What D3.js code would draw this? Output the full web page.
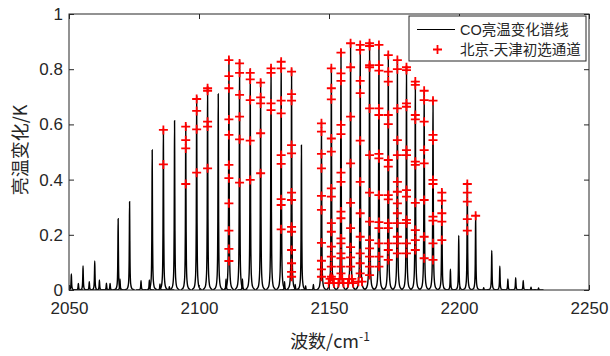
<!DOCTYPE html>
<html>
<head>
<meta charset="utf-8">
<script src="https://cdn.jsdelivr.net/npm/d3@7"></script>
<style>
  body { margin: 0; background: #fff; }
  text { font-family: Arial, "Liberation Sans", sans-serif; fill: #262626; }
</style>
</head>
<body>
<svg id="chart" width="610" height="356"></svg>
<script>
// CO fundamental band lines: centre (cm-1) and brightness temperature change (K)
const lineNu = [2050.9, 2055.4, 2059.9, 2064.4, 2068.9, 2073.3, 2077.7, 2082.0, 2086.3, 2090.6,
  2094.9, 2099.1, 2103.3, 2107.4, 2111.5, 2115.6, 2119.7, 2123.7, 2127.7, 2131.6, 2135.6, 2139.4,
  2147.1, 2150.9, 2154.6, 2158.3, 2162.0, 2165.6, 2169.2, 2172.8, 2176.3, 2179.8, 2183.2, 2186.6,
  2190.0, 2193.4, 2196.7, 2199.9, 2203.2, 2206.4, 2209.5, 2212.6, 2215.7, 2218.8, 2221.8, 2224.7,
  2227.7, 2230.6];
const lineHeight = [0.058, 0.087, 0.105, 0.025, 0.258, 0.32, 0.034, 0.507, 0.585, 0.613,
  0.60, 0.70, 0.735, 0.71, 0.84, 0.83, 0.80, 0.76, 0.81, 0.835, 0.80, 0.525,
  0.61, 0.81, 0.87, 0.895, 0.89, 0.896, 0.89, 0.857, 0.836, 0.809, 0.758, 0.725,
  0.692, 0.362, 0.075, 0.198, 0.39, 0.272, 0.008, 0.143, 0.086, 0.04, 0.045, 0.035,
  0.01, 0.007];

// weak lines (hot band / isotopes)
const weakNu = [2053.6, 2057.8, 2061.7, 2065.8, 2069.6, 2080.9, 2085.0, 2088.6, 2110.4, 2116.7,
  2132.9, 2137.0, 2141.0, 2144.0];
const weakHeight = [0.024, 0.03, 0.036, 0.024, 0.04, 0.036, 0.022, 0.012, 0.04, 0.04,
  0.03, 0.02, 0.015, 0.02];

// selected channels: line centre and values of the channels on that line
const channelNu = [2086.3, 2094.9, 2099.1, 2103.3, 2111.5, 2115.6, 2119.7, 2123.7, 2127.7, 2131.6,
  2135.6, 2147.1, 2150.9, 2154.6, 2158.3, 2162.0, 2165.6, 2169.2, 2172.8, 2176.3, 2179.8, 2183.2,
  2186.6, 2190.0, 2193.4, 2203.2, 2206.4];
const channelValues = [
  [0.58, 0.455],
  [0.592, 0.543, 0.513, 0.384],
  [0.692, 0.649, 0.582, 0.425],
  [0.731, 0.722, 0.61, 0.592, 0.441],
  [0.833, 0.775, 0.731, 0.618, 0.562, 0.453, 0.405, 0.314, 0.215, 0.149, 0.105],
  [0.821, 0.787, 0.707, 0.628, 0.546, 0.389],
  [0.787, 0.763, 0.688, 0.541, 0.399],
  [0.751, 0.698, 0.676, 0.568, 0.423],
  [0.803, 0.787, 0.676, 0.652],
  [0.827, 0.803, 0.686, 0.640, 0.489, 0.457, 0.329, 0.308, 0.220],
  [0.791, 0.710, 0.686, 0.525, 0.495, 0.353, 0.326, 0.229, 0.211, 0.145, 0.097, 0.066, 0.048],
  [0.604, 0.574, 0.493, 0.441, 0.341, 0.290, 0.171, 0.106, 0.075, 0.048],
  [0.803, 0.731, 0.691, 0.549, 0.501, 0.368, 0.338, 0.242, 0.211, 0.157, 0.121, 0.085, 0.048],
  [0.860, 0.785, 0.758, 0.598, 0.565, 0.425, 0.392, 0.284, 0.26, 0.187, 0.169, 0.133, 0.115, 0.085, 0.06],
  [0.894, 0.807, 0.628, 0.459, 0.316, 0.224, 0.155, 0.118, 0.085],
  [0.888, 0.870, 0.758, 0.713, 0.541, 0.392, 0.278, 0.193, 0.133, 0.097, 0.06],
  [0.894, 0.884, 0.815, 0.807, 0.658, 0.489, 0.353, 0.248, 0.181, 0.151, 0.121, 0.085, 0.054],
  [0.888, 0.815, 0.795, 0.658, 0.634, 0.493, 0.477, 0.344, 0.246, 0.224, 0.169, 0.121, 0.085],
  [0.851, 0.791, 0.755, 0.634, 0.601, 0.471, 0.447, 0.344, 0.328, 0.242, 0.224, 0.169, 0.145, 0.109],
  [0.833, 0.800, 0.658, 0.543, 0.489, 0.392, 0.356, 0.314, 0.278, 0.242, 0.193, 0.169, 0.133],
  [0.807, 0.797, 0.676, 0.664, 0.507, 0.489, 0.362, 0.338, 0.254, 0.242, 0.169, 0.133],
  [0.755, 0.743, 0.634, 0.618, 0.465, 0.453, 0.316, 0.217, 0.181, 0.145],
  [0.722, 0.688, 0.610, 0.507, 0.459, 0.326, 0.193, 0.115],
  [0.686, 0.562, 0.543, 0.399, 0.384, 0.266, 0.251, 0.169, 0.109],
  [0.353, 0.324, 0.278, 0.248, 0.181],
  [0.384, 0.353, 0.320, 0.257, 0.215],
  [0.269]
];

// channels on the line wings near the band centre
const wingNu = [2149.9, 2150.4, 2151.4, 2151.9, 2153.6, 2154.1, 2155.1, 2155.6, 2157.3, 2157.8,
  2158.8, 2159.3, 2161.3, 2162.7];
const wingValue = [0.025, 0.04, 0.04, 0.025, 0.025, 0.04, 0.04, 0.025, 0.025, 0.04,
  0.04, 0.025, 0.03, 0.03];

const xTicks = [2050, 2100, 2150, 2200, 2250];
const yTicks = [0, 0.2, 0.4, 0.6, 0.8, 1];
const legendLabels = ["CO亮温变化谱线", "北京-天津初选通道"];

// shape of one line: offset (cm-1) and fraction of its peak
const profile = [[-1.9, 0], [-1.4, 0.006], [-1.0, 0.013], [-0.7, 0.028], [-0.5, 0.055],
  [-0.35, 0.1], [-0.25, 0.18], [-0.16, 0.35], [-0.08, 0.68], [0, 1],
  [0.08, 0.68], [0.16, 0.35], [0.25, 0.18], [0.35, 0.1], [0.5, 0.055],
  [0.7, 0.028], [1.0, 0.013], [1.4, 0.006], [1.9, 0]];

const margin = {top: 14, right: 21, bottom: 66, left: 69};
const width = 610 - margin.left - margin.right;
const height = 356 - margin.top - margin.bottom;

const svg = d3.select("#chart");
const g = svg.append("g").attr("transform", `translate(${margin.left},${margin.top})`);

const x = d3.scaleLinear().domain([2050, 2250]).range([0, width]);
const y = d3.scaleLinear().domain([0, 1]).range([height, 0]);

g.append("clipPath").attr("id", "clip")
  .append("rect").attr("width", width).attr("height", height);

// spectrum
const peaks = lineNu.map((nu, i) => ({nu: nu, h: lineHeight[i]}))
  .concat(weakNu.map((nu, i) => ({nu: nu, h: weakHeight[i]})));

const peakLine = d3.line().curve(d3.curveMonotoneX);

g.append("g").attr("clip-path", "url(#clip)")
  .selectAll("path")
  .data(peaks)
  .enter()
  .append("path")
  .attr("d", d => peakLine(profile.map(p => [x(d.nu + p[0]), y(d.h * p[1])])))
  .attr("fill", "none")
  .attr("stroke", "#000")
  .attr("stroke-width", 1.4);

// channels
const channels = [];
channelNu.forEach((nu, i) => channelValues[i].forEach(v => channels.push({nu: nu, v: v})));
wingNu.forEach((nu, i) => channels.push({nu: nu, v: wingValue[i]}));

const plus = "M-4.5,0H4.5M0,-4.5V4.5";
g.append("g")
  .selectAll("path")
  .data(channels)
  .enter()
  .append("path")
  .attr("d", plus)
  .attr("transform", d => `translate(${x(d.nu)},${y(d.v)})`)
  .attr("fill", "none")
  .attr("stroke", "#ff0000")
  .attr("stroke-width", 1.8);

// axes, ticks inward like matlab
const axisColor = "#262626";
const xAxis = g.append("g").attr("transform", `translate(0,${height})`)
  .call(d3.axisBottom(x).tickValues(xTicks).tickSizeInner(-5).tickSizeOuter(0).tickPadding(12).tickFormat(d3.format("d")));
const xTop = g.append("g")
  .call(d3.axisTop(x).tickValues(xTicks).tickSizeInner(-5).tickSizeOuter(0).tickFormat(""));
const yAxis = g.append("g")
  .call(d3.axisLeft(y).tickValues(yTicks).tickSizeInner(-5).tickSizeOuter(0).tickPadding(6).tickFormat(d3.format("~g")));
const yRight = g.append("g").attr("transform", `translate(${width},0)`)
  .call(d3.axisRight(y).tickValues(yTicks).tickSizeInner(-5).tickSizeOuter(0).tickFormat(""));

[xAxis, xTop, yAxis, yRight].forEach(a => {
  a.select(".domain").remove();
  a.selectAll("line").attr("stroke", axisColor);
  a.selectAll("text").attr("font-size", 17).attr("fill", axisColor)
    .attr("font-family", "Arial, 'Liberation Sans', sans-serif");
});

g.append("rect")
  .attr("width", width).attr("height", height)
  .attr("fill", "none").attr("stroke", axisColor).attr("stroke-width", 1);

// axis titles
svg.append("text")
  .attr("x", 330).attr("y", 348)
  .attr("text-anchor", "middle")
  .attr("font-size", 18)
  .style("font-family", "'Noto Sans CJK SC', sans-serif")
  .html('波数/cm<tspan dy="-7" font-size="12">-1</tspan>');

svg.append("text")
  .attr("transform", "translate(27,150) rotate(-90)")
  .attr("text-anchor", "middle")
  .attr("font-size", 18)
  .style("font-family", "'Noto Sans CJK SC', sans-serif")
  .text("亮温变化/K");

// legend
const legend = svg.append("g").attr("transform", "translate(409,16)");
legend.append("rect")
  .attr("width", 177).attr("height", 45)
  .attr("fill", "#fff").attr("stroke", axisColor).attr("stroke-width", 1);
legend.append("line")
  .attr("x1", 8).attr("x2", 46).attr("y1", 13.5).attr("y2", 13.5)
  .attr("stroke", "#000").attr("stroke-width", 1.2);
legend.append("path")
  .attr("d", plus)
  .attr("transform", "translate(28.5,33.5)")
  .attr("stroke", "#ff0000").attr("stroke-width", 1.8);
legend.selectAll("text.lab")
  .data(legendLabels)
  .enter()
  .append("text")
  .attr("class", "lab")
  .attr("x", 51)
  .attr("y", (d, i) => 13.5 + i * 20)
  .attr("dy", "0.35em")
  .attr("font-size", 14.5)
  .style("font-family", "Arial, 'Noto Sans CJK SC', sans-serif")
  .text(d => d);
</script>
</body>
</html>
